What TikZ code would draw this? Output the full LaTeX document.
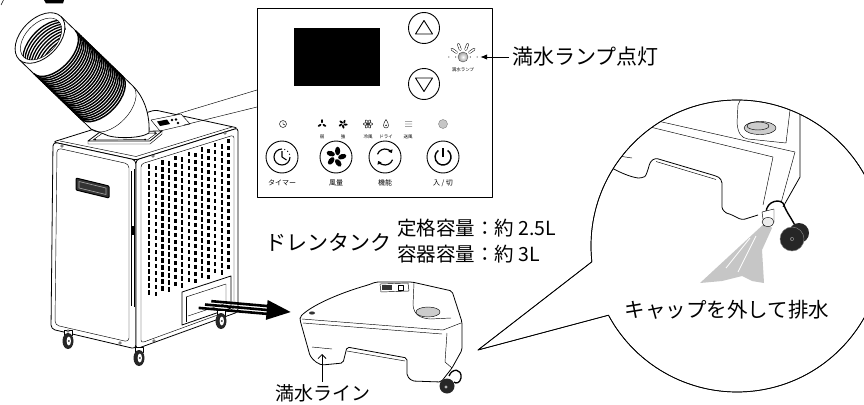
\documentclass[tikz,border=0pt]{standalone}
\usepackage{fontspec}
\newfontfamily\jpfont{Noto Sans CJK JP}
\usetikzlibrary{arrows.meta,calc}
\tikzset{
  ln/.style={draw=black,line width=0.8pt},
  fine/.style={draw=black,line width=0.45pt},
  btn/.style={circle,draw=black,line width=0.9pt,minimum size=32pt,inner sep=0pt,fill=white},
  jp/.style={inner sep=0pt,font=\jpfont\fontsize{#1}{#1}\selectfont},
  ray/.style={double=white,double distance=1.6pt,line width=0.5pt,line cap=round},
}
\begin{document}
\begin{tikzpicture}[x=1pt,y=-1pt,line join=round]
\useasboundingbox (0,0) rectangle (864,404);

% cut-off parts along the top edge
\fill (44,0) -- (64,0) -- (63,3.5) -- (46,3.5) -- cycle;
\draw[fine] (1,5) -- (3.5,0);

% ================= spot cooler =================
% top face
\draw[ln,fill=white,rounded corners=3] (53,142) -- (155,110) -- (238,128) -- (136,160) -- cycle;
\draw[fine] (60,141) -- (136,156.5) -- (232,127);
% left side
\draw[ln,fill=white,rounded corners=4] (53,142) -- (136,160) -- (136,349) -- (51,329) -- cycle;
\draw[fine,rounded corners=4] (57,148) -- (129,164) -- (129,342) -- (55,325) -- cycle;
\draw[fine] (131.5,171) -- (131.5,306);
\draw[fine] (134,169) -- (134,307);
\fill (130.5,226) rectangle (134.5,235);
% carrying handle
\draw[line width=1pt,fill=black!80,rounded corners=1] (76,178) -- (109,186) -- (109,198) -- (76,190) -- cycle;
\draw[black!35,line width=0.6pt] (79,181.5) -- (106,188) -- (106,194.5) -- (79,188) -- cycle;
% front face
\draw[ln,fill=white,rounded corners=3] (136,160) -- (238,128) -- (238,312) -- (136,349) -- cycle;
\draw[fine,rounded corners=3] (141,164) -- (234,135) -- (234,309) -- (141,343) -- cycle;
% grille slots
\foreach \i in {0,...,12} {
  \pgfmathsetmacro\gx{148+6.6*\i}
  \pgfmathsetmacro\gy{168-0.325*(\gx-137)+mod(\i,2)*3.5}
  \foreach \j in {0,...,18} {
    \fill (\gx,\gy+7*\j) rectangle ++(2.4,4.5);
  }
}
% tank slot with the tank inside
\draw[ln,fill=white] (182,292) -- (231,276) -- (231,308) -- (182,325) -- cycle;
\draw[fine] (186,297) -- (226,284) -- (226,307);
\draw[fine] (186,297) -- (186,322);
\draw[fine] (188,316) -- (224,304);
% pull-out arrow
\begin{scope}[shift={(199,304)},rotate=-5]
  \fill (12,-5.2) rectangle (72,-2.6);
  \fill (6,-1.3) rectangle (72,1.3);
  \fill (0,2.6) rectangle (72,5.2);
  \fill (68,-10) -- (92,0) -- (68,10) -- cycle;
\end{scope}
% casters
\foreach \wx/\wy in {68/341,139/358,221/321} {
  \draw[fine,fill=white] (\wx-4,\wy-11) rectangle (\wx+4,\wy-6);
  \fill[black!85] (\wx,\wy) ellipse[x radius=5.5,y radius=8];
  \fill[white] (\wx+0.8,\wy) ellipse[x radius=2.2,y radius=4.5];
  \fill[black!85] (\wx+0.8,\wy) circle (1);
}
% screws
\foreach \sx/\sy in {68/331,120/343,154/341,153/156,225/133,62/146} {
  \draw[fine,fill=white] (\sx,\sy) circle (1.4);
}
% operation panel on top
\draw[fine,fill=white] (151,120) -- (181,114) -- (190,124) -- (160,131) -- cycle;
\fill (157,121.5) -- (167,119.5) -- (170,124) -- (160,126) -- cycle;
\fill (172,120) circle (1.3) (176,119.5) circle (1.3) (178,123) circle (1.3);
\coordinate (unitpanelA) at (174,115);
\coordinate (unitpanelB) at (184,125);
% hose flange
\draw[fine,fill=white] (88,141) -- (88,144) -- (150,144) -- (162,134) -- (162,131) -- cycle;
\draw[ln,fill=white] (88,141) -- (100,132) -- (162,131) -- (150,141) -- cycle;
\draw[fine] (93,140) -- (102,133.5) -- (157,133) -- (148,139.5) -- cycle;
\fill (95,139.5) circle (1) (155,133) circle (1) (145,139.5) circle (1);
% elbow
\fill[white] (132.8,85.9) .. controls (145,98) and (150,116) .. (149,133)
  .. controls (140,139) and (112,139) .. (104,134) -- (91,129.1) -- cycle;
\draw[ln] (132.8,85.9) .. controls (145,98) and (150,116) .. (149,133)
  .. controls (140,139) and (112,139) .. (104,134) -- (91,129.1);
% flexible duct
\begin{scope}[shift={(40,38)},rotate=-44]
  \fill[white] (0,-30) rectangle (100,30);
  \foreach \k in {0,...,26} {
    \pgfmathsetmacro\rx{20+2.5*\k}
    \draw[line width=1.45pt] (\rx,-30) arc[start angle=-90,end angle=90,x radius=17,y radius=30];
  }
  \draw[fine] (100,-30) arc[start angle=-90,end angle=90,x radius=17,y radius=30];
  \draw[ln] (0,-30) -- (100,-30);
  \draw[ln] (0,30) -- (100,30);
  \draw[ln,fill=white] (0,0) ellipse[x radius=19,y radius=30];
  \begin{scope}
    \clip (1.5,0) ellipse[x radius=15.5,y radius=25];
    \foreach \d in {10,12.8,...,42} {
      \draw[line width=1.3pt] (\d,-30) arc[start angle=-90,end angle=-270,x radius=17,y radius=30];
    }
  \end{scope}
  \draw[fine] (1.5,0) ellipse[x radius=15.5,y radius=25];
  \fill (12,-24) circle (0.9);
\end{scope}

% ================= control panel =================
\node[ln,fill=white,minimum width=235pt,minimum height=189pt,inner sep=0pt,anchor=north west] (cp) at (257,8) {};
\draw[fine] ($(cp.north west)+(0,82)$) -- (unitpanelA);
\draw[fine] ($(cp.north west)+(0,99)$) -- (unitpanelB);
\fill (294,28) rectangle (380,86);
\node[btn,minimum size=31pt] (up) at (424,28) {};
\draw[line width=0.9pt] (424,20.5) -- (432.5,34) -- (415.5,34) -- cycle;
\node[btn,minimum size=31pt] (down) at (424,84) {};
\draw[line width=0.9pt] (424,91.5) -- (432.5,78) -- (415.5,78) -- cycle;
% full-water lamp
\node[circle,inner sep=0pt,minimum size=10pt,draw=black!70,shading=radial,inner color=white,outer color=gray!75] (lamp) at (463,57) {};
\foreach \a in {180,0,-145,-110,-70,-35} {
  \draw[ray] ($(lamp.center)+(\a:8)$) -- ($(lamp.center)+(\a:13.5)$);
}
\node[jp=4.5] (lampname) at (463,70) {満水ランプ};
\node[jp=21,anchor=west] (lamptxt) at (512,57) {満水ランプ点灯};
\draw[line width=0.9pt,-{Latex[length=7pt,width=5.5pt]},shorten <=3pt,shorten >=12pt] (lamptxt.west) -- (lamp.east);
% indicator row
\draw[fine] (283,124) circle (3.5);
\draw[fine] (283,124) -- (283,121.5) (283,124) -- (285,125);
\foreach \a in {90,210,330} {
  \fill[rotate around={\a:(322,124)}] (324.8,124) ellipse[x radius=2,y radius=1];
}
\foreach \a in {0,72,144,216,288} {
  \fill[rotate around={\a:(343,124)}] (345.6,124.6) ellipse[x radius=2,y radius=1];
}
\foreach \a in {0,60,...,300} {
  \draw[fine,rotate around={\a:(368,124)}] (370.6,124) ellipse[x radius=2,y radius=1.2];
}
\draw[fine] (386,119.5) .. controls (383,123.5) and (382.5,128) .. (386,128) .. controls (389.5,128) and (389,123.5) .. (386,119.5);
\fill (386,125.3) circle (0.8);
\foreach \dy in {-2.5,0,2.5} {
  \draw[fine] (405,124+\dy) .. controls (406.5,123+\dy) and (408,125+\dy) .. (409.5,124+\dy) -- (412,124+\dy);
}
\node[circle,inner sep=0pt,minimum size=9pt,draw=gray,fill=gray!45] (ind) at (443,124) {};
\node[jp=4.5] at (322,137) {弱};
\node[jp=4.5] at (343,137) {強};
\node[jp=4.5] at (368,137) {冷風};
\node[jp=4.5] at (386,137) {ドライ};
\node[jp=4.5] at (408,137) {送風};
% buttons
\node[btn] (btimer) at (282,157) {};
\draw[line width=1.1pt] (282,157) ++(0:8) arc[start angle=0,end angle=270,radius=8];
\foreach \a in {-70,-45,-20} { \fill (282,157) ++(\a:8) circle (0.7); }
\draw[line width=1.1pt] (282,157) -- (282,151) (282,157) -- (286.5,160);
\node[btn] (bfan) at (336,157) {};
\foreach \a in {0,72,144,216,288} {
  \fill[rotate around={\a:(336,157)}] (337.6,151) ellipse[x radius=2.6,y radius=4.3];
}
\node[btn] (bmode) at (385,157) {};
\draw[line width=1.2pt,-{Triangle[length=3pt,width=4.5pt]}] (385,157) ++(200:8) arc[start angle=200,end angle=330,radius=8];
\draw[line width=1.2pt,-{Triangle[length=3pt,width=4.5pt]}] (385,157) ++(20:8) arc[start angle=20,end angle=150,radius=8];
\node[btn] (bpower) at (443,157) {};
\draw[line width=1.4pt] (443,157) ++(-55:8) arc[start angle=-55,end angle=235,radius=8];
\draw[line width=1.4pt] (443,148) -- (443,157);
\node[jp=7] at (282,183) {タイマー};
\node[jp=7] at (336,183) {風量};
\node[jp=7] at (385,183) {機能};
\node[jp=7] at (443,183) {入 / 切};

% ================= drain tank =================
\node[jp=21] (tanktitle) at (328,242) {ドレンタンク};
\node[jp=19.5,anchor=west] (spec1) at (397,228) {定格容量：約 2.5L};
\node[jp=19.5,anchor=west] (spec2) at (397,254) {容器容量：約 3L};
\draw[ln,fill=white,rounded corners=2]
  (300,317) .. controls (312,305) and (340,293) .. (368,285)
  -- (376,282) -- (412,282) -- (452,291)
  -- (462,322) -- (462,350) -- (452,368)
  -- (441,382) -- (412,381) -- (407,376) -- (407,358)
  -- (347,347) -- (343,363) -- (322,365)
  .. controls (314,362) and (310,356) .. (309,352)
  -- (300,320) -- cycle;
\draw[fine] (302,319) -- (443,330);
\draw[fine] (303,323) -- (442,334);
\draw[fine] (443,330) -- (461,323);
\draw[fine] (447,333) -- (445,362) -- (452,368);
\draw[fine] (347,351) -- (405,361);
\draw[fine] (312,347) -- (332,349);
\draw[fine,fill=white] (380,284) -- (408,283) -- (409,291) -- (381,292) -- cycle;
\fill[black!80] (382,285) rectangle (392,290);
\draw[fine] (398,285) rectangle (403,290);
\draw[fine] (414,283) -- (413,305) .. controls (414,315) and (420,318) .. (430,319) -- (451,318);
\draw[fine,fill=gray!40] (428,312) ellipse[x radius=12,y radius=5];
\fill[black!80] (312,313) ellipse[x radius=3,y radius=1.6];
\draw[line width=1.3pt] (449,376) .. controls (452,368) and (462,368) .. (461,378) .. controls (460,383) and (456,384) .. (454,382);
\fill[black!85] (447,386) circle (7.5);
\fill[gray!60] (446,387) circle (1.6);
\coordinate (fullmark) at (322,354);
\node[jp=19] (fulltxt) at (323,393) {満水ライン};
\draw[line width=0.8pt,-{Straight Barb[length=4pt,width=8pt]},shorten <=2pt] (fulltxt.north -| fullmark) -- (fullmark);

% ================= detail circle =================
\coordinate (C) at (737,246);
\coordinate (tip) at (478,350);
\draw[line width=0.7pt,fill=white] (tip) -- ($(C)+(173.8:146)$) arc[start angle=173.8,end angle=511.7,radius=146] -- cycle;
\begin{scope}
  \clip (C) circle (146);
  % draining water
  \fill[gray!45] (766,222) -- (700,283) -- (722,281) -- (742,276) -- (752,281) -- (764,283) -- (762,250) -- (772,228) -- cycle;
  \draw[white,line width=0.8pt] (756,236) -- (738,272);
  \draw[white,line width=0.8pt] (750,238) -- (726,268);
  % tank bottom edge
  \draw[ln,rounded corners=3] (560,158) -- (612,168) .. controls (625,175) and (635,178) .. (642,178)
    .. controls (646,176) and (648,170) .. (650,162) -- (655,158) -- (716,176)
    .. controls (720,178) and (722,181) .. (722,186) -- (722,204)
    .. controls (722,210) and (726,213) .. (730,214) -- (742,220) -- (758,215);
  \draw[fine] (656,161.5) -- (716,179.5);
  \draw[fine] (612,155) -- (632,158);
  \draw[fine] (560,99) -- (795,152);
  \draw[fine] (560,105) -- (773,157);
  \draw[fine] (773,157) -- (763,205);
  \draw[fine] (795,152) -- (781,203);
  \draw[ln] (800,100) -- (800,177) -- (783,207);
  % filler opening
  \draw[fine] (745,90) -- (738,105) -- (737,123) .. controls (738,133) and (741,138) .. (748,139) -- (786,143) -- (790,110) -- (796,92);
  \draw[fine,fill=gray!40] (760,128) ellipse[x radius=16,y radius=6.5];
  \draw[fine] (758,126) ellipse[x radius=11,y radius=4];
  % spout, strap and cap
  \draw[line width=1.4pt] (766,213) .. controls (766,200) and (782,198) .. (784,205) .. controls (786,212) and (793,220) .. (796,228);
  \draw[fine,fill=white] (762,212) -- (774,209) -- (774,222) -- (764,226) -- cycle;
  \draw[fine,fill=gray!15] (768,222) ellipse[x radius=6,y radius=4.5];
  \fill[black!85] (799,233) circle (10);
  \fill[black!85] (792,239) circle (12);
  \draw[black!50,line width=0.5pt] (792,239) circle (12);
  \fill[black!50] (792,239) circle (2);
  \fill[black] (792,239) circle (1);
\end{scope}
\draw[line width=0.7pt] (tip) -- ($(C)+(173.8:146)$) arc[start angle=173.8,end angle=511.7,radius=146] -- cycle;
\node[jp=20.5] (draintxt) at (727,310) {キャップを外して排水};
\end{tikzpicture}
\end{document}
